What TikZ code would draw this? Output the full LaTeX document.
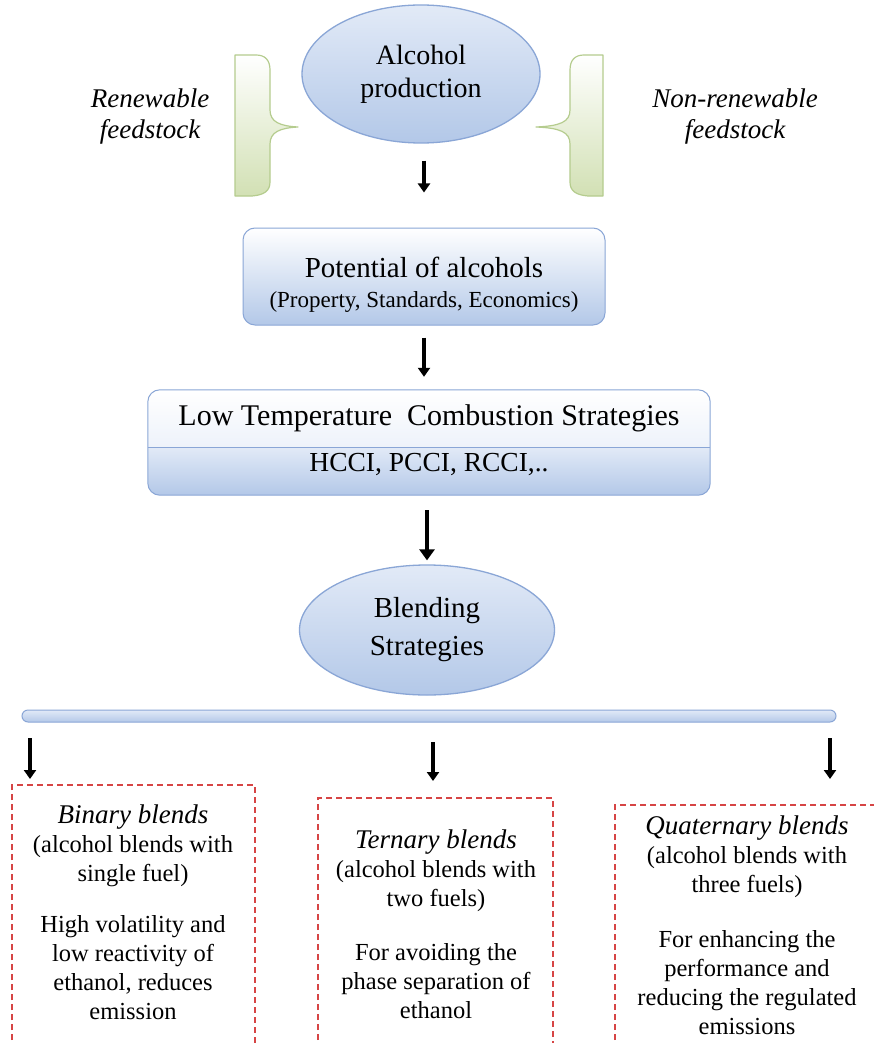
\documentclass[tikz,border=0pt]{standalone}
\usepackage{fontspec}
\setmainfont{Liberation Serif}
\usetikzlibrary{shapes.geometric,arrows.meta,calc}
\definecolor{bluefill}{HTML}{B3C8E8}
\definecolor{bluelight}{HTML}{E2EAF7}
\definecolor{blueedge}{HTML}{8AA6D6}
\definecolor{bracegreen}{HTML}{C3D69B}
\definecolor{braceedge}{HTML}{B5CC8E}
\definecolor{dashred}{HTML}{D64545}
\begin{document}
\begin{tikzpicture}[x=1pt,y=-1pt,
  oval/.style={ellipse, draw=blueedge, line width=1.3pt, top color=bluelight, bottom color=bluefill, align=center, inner sep=0pt},
  rbox/.style={rounded corners=12pt, draw=blueedge, line width=1pt, top color=white, bottom color=bluefill, inner sep=0pt},
  arr/.style={line width=3.8pt, -{Triangle[width=12pt,length=9pt]}},
  bigarr/.style={line width=4.8pt, -{Triangle[width=15pt,length=11pt]}},
  dbox/.style={draw=dashred, dash pattern=on 6pt off 4pt, line width=1.4pt},
  body/.style={font=\fontsize{24.5}{29}\selectfont, align=center, inner sep=0pt},
  side/.style={font=\fontsize{27}{31}\selectfont\itshape, align=center, inner sep=0pt},
  bracefill/.style={draw=braceedge, line width=1.2pt, top color=white, bottom color=bracegreen!75, line join=round}
]
\useasboundingbox (0,0) rectangle (874,1043);
\clip (0,0) rectangle (874,1043);
\fill[white] (0,0) rectangle (874,1043);

% braces (filled bracket shapes)
\path[bracefill] (235,55) -- (256,55) .. controls (265,55) and (270,60) .. (270,70) -- (270,110)
  .. controls (270,122) and (280,126) .. (298,127)
  .. controls (280,128) and (270,132) .. (270,144) -- (270,182)
  .. controls (270,191) and (264,195) .. (252,196) -- (235,196) -- cycle;
\path[bracefill] (603,55) -- (584,55) .. controls (575,55) and (570,60) .. (570,70) -- (570,110)
  .. controls (570,122) and (560,126) .. (536,127)
  .. controls (560,128) and (570,132) .. (570,144) -- (570,182)
  .. controls (570,191) and (576,195) .. (588,196) -- (603,196) -- cycle;

\node[side] (ren) at (150,117) {Renewable\\feedstock};
\node[side] (nonren) at (735,117) {Non-renewable\\feedstock};

% top ellipse
\node[oval, minimum width=238pt, minimum height=138pt, font=\fontsize{28}{33}\selectfont] (alc) at (421,74) {Alcohol\\production};

% box 2
\node[rbox, minimum width=362pt, minimum height=97pt] (pot) at (424,276.5) {};
\node[inner sep=0pt, font=\fontsize{29}{33}\selectfont] (potA) at (424,267) {Potential of alcohols};
\node[inner sep=0pt, font=\fontsize{23}{27}\selectfont] (potB) at (424,302) {(Property, Standards, Economics)};

% box 3
\node[minimum width=562pt, minimum height=105pt, inner sep=0pt] (ltc) at (429,442.5) {};
\begin{scope}
  \clip[rounded corners=12pt] (ltc.south west) rectangle (ltc.north east);
  \shade[top color=white, bottom color=bluelight!60] (148,390) rectangle (710,447);
  \shade[top color=bluelight, bottom color=bluefill] (148,447) rectangle (710,495);
\end{scope}
\draw[blueedge, line width=1pt, rounded corners=12pt] (ltc.south west) rectangle (ltc.north east);
\draw[blueedge, line width=1pt] (ltc.west |- 0,447) -- (ltc.east |- 0,447);
\node[inner sep=0pt, font=\fontsize{30}{34}\selectfont] (ltcA) at (429,418) {Low Temperature\ \ Combustion Strategies};
\node[inner sep=0pt, font=\fontsize{27.5}{31}\selectfont] (ltcB) at (429,465) {HCCI, PCCI, RCCI,..};

% blending ellipse
\node[oval, minimum width=255pt, minimum height=130pt, font=\fontsize{29}{38}\selectfont] (blend) at (427,630) {Blending\\Strategies};

% bar
\node[rounded corners=6pt, draw=blueedge, line width=1pt, top color=bluelight, bottom color=bluefill, minimum width=814pt, minimum height=12pt, inner sep=0pt] (bar) at (429,716) {};

% arrows
\coordinate (xa) at (424,0);
\coordinate (xb) at (427,0);
\draw[arr] ([yshift=-17pt]alc.south -| xa) -- ([yshift=35pt]pot.north -| xa);
\draw[arr] ([yshift=-12pt]pot.south -| xa) -- ([yshift=13pt]ltc.north -| xa);
\draw[bigarr] ([yshift=-15pt]ltc.south -| xb) -- ([yshift=4pt]blend.north -| xb);

\coordinate (a1) at (30,738);  \coordinate (a2) at (30,779);
\coordinate (b1) at (433,742); \coordinate (b2) at (433,781);
\coordinate (c1) at (830,738); \coordinate (c2) at (830,779);
\draw[arr] (a1) -- (a2);
\draw[arr] (b1) -- (b2);
\draw[arr] (c1) -- (c2);

% dashed boxes
\draw[dbox] (12,1060) |- (255,785) -- (255,1060);
\draw[dbox] (318,1060) |- (553,798) -- (553,1060);
\draw[dbox] (615,1060) |- (880,805);

\node[body] (bin1) at (133,846) {\fontsize{27}{29}\selectfont\itshape Binary blends\\(alcohol blends with\\single fuel)};
\node[body] (bin2) at (133,968) {High volatility and\\low reactivity of\\ethanol, reduces\\emission};
\node[body] (ter1) at (436,871) {\fontsize{27}{29}\selectfont\itshape Ternary blends\\(alcohol blends with\\two fuels)};
\node[body] (ter2) at (436,981) {For avoiding the\\phase separation of\\ethanol};
\node[body] (qua1) at (747,857) {\fontsize{27}{29}\selectfont\itshape Quaternary blends\\(alcohol blends with\\three fuels)};
\node[body] (qua2) at (747,983) {For enhancing the\\performance and\\reducing the regulated\\emissions};
\end{tikzpicture}
\end{document}
